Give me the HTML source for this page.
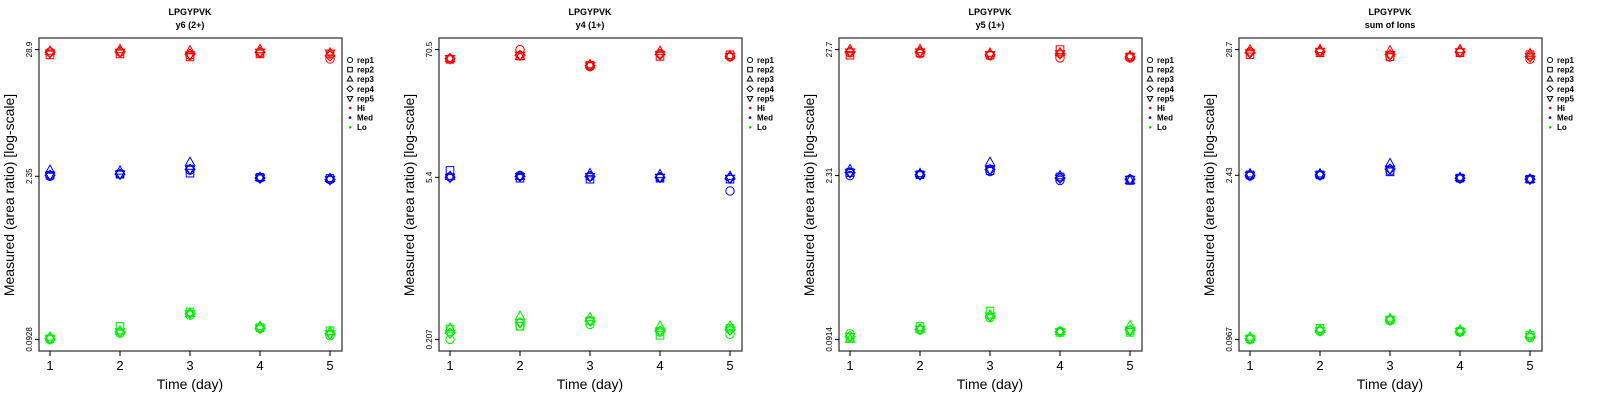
<!DOCTYPE html>
<html><head><meta charset="utf-8">
<style>
html,body{margin:0;padding:0;background:#fff;}
svg{display:block;font-family:"Liberation Sans",sans-serif;}
</style></head>
<body>
<svg id="chart" width="1600" height="400" viewBox="0 0 1600 400" xmlns="http://www.w3.org/2000/svg"></svg>
<script>
// ---- data ----
const days = [1, 2, 3, 4, 5];
const reps = ["rep1", "rep2", "rep3", "rep4", "rep5"];
const levels = ["Hi", "Med", "Lo"];
const levelColors = ["#ff0000", "#0000ff", "#00ee00"];
const panelTitles = ["y6 (2+)", "y4 (1+)", "y5 (1+)", "sum of Ions"];
const peptide = "LPGYPVK";
const tickLabels = [["28.9", "2.35", "0.0928"], ["70.5", "5.4", "0.207"], ["27.7", "2.31", "0.0914"], ["28.7", "2.43", "0.0967"]];
const tickValues = [[28.9, 2.35, 0.0928], [70.5, 5.4, 0.207], [27.7, 2.31, 0.0914], [28.7, 2.43, 0.0967]];
// values[panel][level][day] = [rep1..rep5]
const hiP1 = [[27.5, 26.0, 28.0, 27.5, 27.0], [27.5, 26.5, 28.9, 27.8, 27.5], [25.8, 25.0, 28.2, 26.5, 26.0], [27.0, 26.5, 28.9, 27.5, 27.5], [24.0, 26.5, 27.0, 25.5, 27.0]];
const medP1 = [[2.35, 2.4, 2.65, 2.4, 2.4], [2.45, 2.45, 2.6, 2.45, 2.45], [2.65, 2.5, 3.1, 2.7, 2.7], [2.27, 2.3, 2.3, 2.27, 2.27], [2.2, 2.25, 2.25, 2.2, 2.2]];
const loP1 = [[0.0928, 0.094, 0.097, 0.094, 0.094], [0.105, 0.12, 0.11, 0.108, 0.108], [0.15, 0.16, 0.155, 0.155, 0.155], [0.115, 0.117, 0.12, 0.116, 0.116], [0.1, 0.11, 0.108, 0.104, 0.104]];
const hiP2 = [[58.5, 58.0, 59.0, 58.8, 58.8], [70.5, 62.0, 61.5, 63.0, 63.0], [50.0, 51.5, 52.0, 51.0, 51.0], [65.0, 61.5, 68.0, 64.0, 64.0], [61.0, 63.5, 62.5, 61.5, 61.5]];
const medP2 = [[5.45, 6.2, 5.5, 5.4, 5.4], [5.6, 5.3, 5.5, 5.5, 5.5], [5.5, 5.2, 5.8, 5.5, 5.5], [5.35, 5.3, 5.7, 5.4, 5.4], [4.1, 5.2, 5.5, 5.3, 5.3]];
const loP2 = [[0.207, 0.255, 0.26, 0.235, 0.235], [0.27, 0.27, 0.33, 0.29, 0.29], [0.28, 0.3, 0.32, 0.3, 0.3], [0.24, 0.225, 0.27, 0.245, 0.245], [0.23, 0.26, 0.27, 0.25, 0.25]];
const hiP3 = [[26.0, 24.8, 27.7, 26.5, 26.5], [25.5, 26.0, 27.7, 26.5, 26.5], [24.5, 24.8, 25.8, 25.0, 25.0], [23.5, 27.7, 26.0, 25.5, 25.5], [23.5, 24.0, 24.5, 24.0, 24.0]];
const medP3 = [[2.31, 2.45, 2.6, 2.45, 2.45], [2.35, 2.35, 2.4, 2.35, 2.35], [2.5, 2.55, 3.0, 2.6, 2.6], [2.1, 2.25, 2.3, 2.2, 2.2], [2.15, 2.1, 2.1, 2.15, 2.15]];
const loP3 = [[0.102, 0.095, 0.0914, 0.097, 0.097], [0.11, 0.118, 0.112, 0.112, 0.112], [0.14, 0.16, 0.148, 0.145, 0.145], [0.107, 0.105, 0.107, 0.106, 0.106], [0.108, 0.105, 0.12, 0.11, 0.11]];
const hiP4 = [[27.5, 26.0, 28.5, 27.0, 27.0], [27.5, 27.0, 28.7, 27.8, 27.8], [24.8, 25.0, 28.0, 26.0, 26.0], [27.0, 27.0, 28.7, 27.5, 27.5], [23.8, 26.0, 26.5, 25.0, 25.0]];
const medP4 = [[2.4, 2.45, 2.5, 2.43, 2.43], [2.43, 2.45, 2.5, 2.45, 2.45], [2.65, 2.6, 3.05, 2.75, 2.75], [2.28, 2.3, 2.33, 2.3, 2.3], [2.25, 2.25, 2.25, 2.25, 2.25]];
const loP4 = [[0.0967, 0.098, 0.101, 0.098, 0.098], [0.113, 0.12, 0.118, 0.115, 0.115], [0.14, 0.142, 0.145, 0.142, 0.142], [0.112, 0.113, 0.116, 0.113, 0.113], [0.1, 0.105, 0.106, 0.102, 0.102]];
const panelData = [[hiP1, medP1, loP1], [hiP2, medP2, loP2], [hiP3, medP3, loP3], [hiP4, medP4, loP4]];

// ---- drawing ----
const NS = "http://www.w3.org/2000/svg";
const svg = document.getElementById("chart");
function mk(tag, attrs, parent) {
  const e = document.createElementNS(NS, tag);
  for (const k in attrs) e.setAttribute(k, attrs[k]);
  (parent || svg).appendChild(e);
  return e;
}
const boxL = 39, boxR = 342, boxT = 38, boxB = 351, panelW = 400;

function marker(g, shape, cx, cy, col) {
  let e;
  const r = 4.2;
  if (shape === 0) e = mk("circle", {cx: cx, cy: cy, r: r}, g);
  else if (shape === 1) e = mk("rect", {x: cx - 3.8, y: cy - 3.8, width: 7.6, height: 7.6}, g);
  else if (shape === 2) e = mk("polygon", {points: `${cx},${cy - 5.2} ${cx - 4.6},${cy + 3} ${cx + 4.6},${cy + 3}`}, g);
  else if (shape === 3) e = mk("polygon", {points: `${cx},${cy - 5} ${cx + 5},${cy} ${cx},${cy + 5} ${cx - 5},${cy}`}, g);
  else e = mk("polygon", {points: `${cx},${cy + 5.2} ${cx - 4.6},${cy - 3} ${cx + 4.6},${cy - 3}`}, g);
  e.setAttribute("fill", "none");
  e.setAttribute("stroke", col);
  e.setAttribute("stroke-width", "1");
  return e;
}

for (let p = 0; p < 4; p++) {
  const ox = p * panelW;
  const g = mk("g", {transform: `translate(${ox},0)`});
  
  
  const tv = tickValues[p];
  const lmax = Math.log(tv[0]), lmin = Math.log(tv[2]);
  const pad = (lmax - lmin) * 0.04;
  const yScale = v => boxB - (Math.log(v) - (lmin - pad)) / ((lmax + pad) - (lmin - pad)) * (boxB - boxT);
  const xScale = d => 50 + (d - 1) / 4 * 280;

  const t1 = mk("text", {x: 190, y: 15, "text-anchor": "middle", "font-size": 9, "font-weight": "bold"}, g);
  t1.textContent = peptide;
  
  
  const t2 = mk("text", {x: 190, y: 28, "text-anchor": "middle", "font-size": 9, "font-weight": "bold"}, g);
  t2.textContent = panelTitles[p];
  
  

  const box = mk("rect", {x: boxL, y: boxT, width: boxR - boxL, height: boxB - boxT, fill: "none", stroke: "#555", "stroke-width": 1.5}, g);
  
  

  for (let i = 0; i < tv.length; i++) {
    const y = yScale(tv[i]);
    mk("line", {x1: boxL - 4, x2: boxL, y1: y, y2: y, stroke: "#000", "stroke-width": 1}, g);
    const lab = mk("text", {x: 0, y: 0, transform: `translate(32,${y}) rotate(-90)`, "text-anchor": "middle", "font-size": 8}, g);
    lab.textContent = tickLabels[p][i];
    
    
  }
  for (let i = 0; i < days.length; i++) {
    const x = xScale(days[i]);
    mk("line", {x1: x, x2: x, y1: boxB, y2: boxB + 5, stroke: "#000", "stroke-width": 1}, g);
    const lab = mk("text", {x: x, y: 370, "text-anchor": "middle", "font-size": 13}, g);
    lab.textContent = days[i];
    
    
  }
  const xt = mk("text", {x: 190, y: 389, "text-anchor": "middle", "font-size": 14}, g);
  xt.textContent = "Time (day)";
  
  
  const yt = mk("text", {x: 0, y: 0, transform: "translate(14,195) rotate(-90)", "text-anchor": "middle", "font-size": 14}, g);
  yt.textContent = "Measured (area ratio) [log-scale]";
  
  

  for (let l = 0; l < levels.length; l++) {
    for (let d = 0; d < days.length; d++) {
      for (let r = 0; r < reps.length; r++) {
        const m = marker(g, r, xScale(days[d]), yScale(panelData[p][l][d][r]), levelColors[l]);
        
        
      }
    }
  }

  const lg = mk("g", {}, g);
  
  
  const entries = reps.concat(levels);
  for (let i = 0; i < entries.length; i++) {
    const y = 60 + i * 9.6;
    if (i < 5) {
      const m = marker(lg, i, 350, y, "#000");
      m.setAttribute("transform", `translate(350,${y}) scale(0.6) translate(-350,${-y})`);
      m.setAttribute("stroke-width", "1.6");
    } else {
      mk("circle", {cx: 350, cy: y, r: 1.3, fill: levelColors[i - 5]}, lg);
    }
    const tx = mk("text", {x: 357, y: y + 3, "font-size": 8, "font-weight": "bold"}, lg);
    tx.textContent = entries[i];
    
    
  }
}
</script>
</body></html>
